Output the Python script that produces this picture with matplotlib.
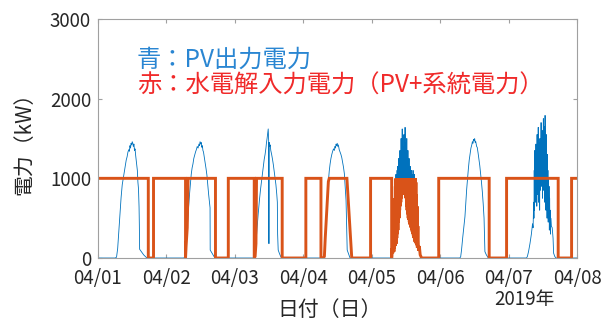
import numpy as np
import matplotlib
matplotlib.use("Agg")
from matplotlib import pyplot as plt

plt.rcParams['font.family'] = ['Noto Sans CJK JP', 'DejaVu Sans']

# PV output per day: hour of day, kW
d1_h = [6.0, 6.5, 6.9, 7.3, 7.7, 8.1, 8.5, 8.9, 9.3, 9.6, 9.9, 10.2, 10.5, 10.8, 11.0, 11.2, 11.4, 11.6, 11.8,
        12.0, 12.2, 12.4, 12.6, 12.8, 13.0, 13.2, 13.4, 13.6, 13.8, 14.0, 14.2, 14.4, 14.5, 14.6, 15.2, 16.0, 17.0, 17.3]
d1_kw = [0, 10, 120, 330, 560, 760, 920, 1010, 1100, 1160, 1230, 1270, 1330, 1360, 1340, 1410, 1380, 1440, 1420,
         1460, 1440, 1400, 1430, 1350, 1370, 1290, 1230, 1170, 1100, 950, 870, 640, 420, 110, 80, 40, 5, 0]

d2_h = [6.0, 6.5, 6.9, 7.3, 7.7, 8.1, 8.4, 8.7, 9.0, 9.3, 9.6, 9.9, 10.2, 10.5, 10.8, 11.1, 11.4, 11.6, 11.8,
        12.0, 12.2, 12.4, 12.6, 12.8, 13.0, 13.3, 13.6, 13.9, 14.2, 14.5, 14.8, 15.1, 15.3, 15.35, 16.0, 16.5, 17.0]
d2_kw = [0, 10, 150, 380, 600, 800, 930, 1050, 1130, 1180, 1250, 1290, 1330, 1360, 1400, 1380, 1430, 1410, 1460,
         1430, 1450, 1390, 1410, 1350, 1330, 1260, 1190, 1120, 1040, 920, 800, 700, 630, 100, 60, 30, 0]

d3_h = [6.8, 7.1, 7.4, 7.8, 8.2, 8.6, 9.0, 9.4, 9.7, 10.0, 10.3, 10.6, 10.9, 11.1, 11.3, 11.5, 11.7, 11.85, 11.95,
        12.05, 12.2, 12.4, 12.6, 12.9, 13.2, 13.5, 13.8, 14.1, 14.4, 14.7, 14.9, 15.0, 15.2, 15.6, 16.0, 16.4]
d3_kw = [0, 20, 180, 380, 560, 720, 860, 980, 1080, 1150, 1240, 1300, 1380, 1450, 1500, 1560, 1620, 1480, 180,
         1450, 1400, 1420, 1350, 1300, 1240, 1170, 1090, 1010, 920, 800, 700, 300, 100, 60, 25, 0]

d4_h = [7.0, 7.4, 7.7, 8.0, 8.2, 8.5, 8.8, 9.1, 9.4, 9.7, 10.0, 10.3, 10.6, 10.9, 11.1, 11.3, 11.5, 11.7, 11.9,
        12.1, 12.3, 12.6, 12.9, 13.2, 13.5, 13.8, 14.1, 14.4, 14.7, 15.0, 15.2, 15.4, 15.9, 16.4]
d4_kw = [0, 20, 250, 450, 580, 800, 960, 1090, 1180, 1250, 1300, 1340, 1370, 1350, 1400, 1380, 1430, 1410, 1440,
         1400, 1420, 1360, 1330, 1300, 1260, 1200, 1140, 1060, 900, 720, 400, 100, 50, 0]

d5_h = [6.8, 7.0, 7.2, 7.4, 7.6, 7.8,
        7.9, 8.0, 8.1, 8.2, 8.3, 8.4, 8.5, 8.6, 8.7, 8.8, 8.9, 9.0, 9.1, 9.2,
        9.3, 9.4, 9.5, 9.6, 9.7, 9.8, 9.9,
        10.0, 10.1, 10.2, 10.3, 10.4, 10.5, 10.6, 10.7, 10.8, 10.9,
        11.0, 11.1, 11.2, 11.3, 11.4, 11.5, 11.6, 11.7, 11.8, 11.9,
        12.0, 12.1, 12.2, 12.3, 12.4, 12.5, 12.6, 12.7, 12.8, 12.9,
        13.0, 13.1, 13.2, 13.3, 13.4, 13.5, 13.6, 13.7, 13.8, 13.9,
        14.0, 14.1, 14.2, 14.3, 14.4, 14.5, 14.6, 14.7, 14.8, 14.9,
        15.0, 15.1, 15.2, 15.3, 15.4, 15.5, 15.6, 15.7, 15.8, 15.9,
        16.0, 16.2, 16.4, 16.7, 17.0, 17.5]
d5_kw = [0, 20, 120, 60, 300, 80,
         500, 120, 750, 150, 900, 200, 1050, 180, 1000, 250, 1100, 300, 1150, 350,
         1100, 450, 1250, 500, 1100, 600, 1350,
         650, 1200, 700, 1500, 750, 1300, 850, 1620, 800, 1400,
         900, 1250, 850, 1550, 800, 1300, 900, 1640, 800, 1450,
         750, 1300, 650, 1500, 600, 1200, 550, 1350, 500, 1100,
         480, 1250, 450, 1050, 420, 1150, 400, 1000, 380, 1100,
         350, 1050, 330, 1000, 300, 1100, 280, 1000, 250, 1050,
         220, 1000, 200, 1000, 190, 950, 180, 800, 160, 650,
         130, 400, 90, 150, 40, 0]

d6_h = [6.9, 7.2, 7.5, 7.9, 8.3, 8.7, 9.0, 9.3, 9.6, 9.9, 10.2, 10.5, 10.8, 11.1, 11.3, 11.5, 11.7, 11.9, 12.1,
        12.3, 12.5, 12.8, 13.0, 13.3, 13.6, 13.9, 14.2, 14.5, 14.8, 15.1, 15.4, 15.6, 15.7, 16.2, 16.9]
d6_kw = [0, 15, 100, 250, 380, 520, 700, 860, 990, 1120, 1230, 1310, 1380, 1420, 1460, 1440, 1490, 1470, 1500,
         1450, 1460, 1400, 1390, 1320, 1240, 1160, 1060, 950, 830, 680, 500, 200, 80, 40, 0]

d7_h = [6.3, 6.6, 7.0, 7.5, 8.0, 8.4, 8.6, 8.8, 8.9, 9.0, 9.1, 9.2, 9.3, 9.4, 9.5, 9.6, 9.7, 9.8, 9.9, 10.0,
        10.1, 10.2, 10.3, 10.4, 10.5, 10.6, 10.7, 10.8, 10.9, 11.0, 11.1, 11.2, 11.3, 11.4, 11.5, 11.6, 11.7,
        11.8, 11.9, 12.0, 12.1, 12.2, 12.3, 12.4, 12.5, 12.6, 12.7, 12.8, 12.9, 13.0, 13.1, 13.2, 13.3, 13.4,
        13.5, 13.6, 13.7, 13.8, 13.9, 14.0, 14.1, 14.2, 14.3, 14.4, 14.5, 14.6, 14.7, 14.8, 15.0, 15.3, 15.6,
        15.8, 16.2, 16.6]
d7_kw = [0, 20, 80, 180, 300, 430, 380, 700, 500, 1100, 600, 1350, 800, 1200, 700, 1430, 900, 1250, 650, 1550,
         800, 1300, 1000, 1640, 700, 1450, 950, 1350, 600, 1500, 850, 1250, 1050, 1700, 900, 1400, 1000,
         1600, 750, 1300, 1100, 1750, 850, 1500, 1000, 1650, 700, 1790, 900, 1400, 600, 1550, 800, 1200,
         500, 1300, 700, 1100, 450, 1000, 600, 900, 350, 750, 400, 600, 300, 500, 400, 380, 250,
         60, 20, 0]

pv_days = [(d1_h, d1_kw), (d2_h, d2_kw), (d3_h, d3_kw), (d4_h, d4_kw),
           (d5_h, d5_kw), (d6_h, d6_kw), (d7_h, d7_kw)]

# electrolyser input schedule (absolute hours); None = tracks PV up to 1000 kW
red_start = [0, 17.64, 19.47, 30.7, 31.6, 41.2, 45.7, 54.8, 55.6, 64.6, 72.9, 78.2, 81.4, 89.0,
             95.6, 103.0, 113.5, 119.5, 137.2, 143.3, 161.4, 166.1]
red_end = [17.64, 19.47, 30.7, 31.6, 41.2, 45.7, 54.8, 55.6, 64.6, 72.9, 78.2, 81.4, 87.3, 95.6,
           103.0, 113.5, 119.5, 137.2, 143.3, 161.4, 166.1, 168]
red_level = [1000, 0, 1000, None, 1000, 0, 1000, None, 1000, 0, 1000, None, 1000, 0,
             1000, None, 0, 1000, 0, 1000, 0, 1000]

day_labels = ['04/01', '04/02', '04/03', '04/04', '04/05', '04/06', '04/07', '04/08']
y_ticks = [0, 1000, 2000, 3000]

# assemble the PV trace over the week
pv_t = [0.0]
pv_v = [0.0]
for i, (hh, kw) in enumerate(pv_days):
    pv_t += [24 * i + h for h in hh]
    pv_v += list(kw)
pv_t.append(168.0)
pv_v.append(0.0)
pv_t = np.array(pv_t)
pv_v = np.array(pv_v)

red_t = []
red_v = []
for t0, t1, lvl in zip(red_start, red_end, red_level):
    if lvl is None:
        m = (pv_t > t0) & (pv_t < t1)
        red_t += [t0] + list(pv_t[m])
        red_v += [0] + list(np.minimum(pv_v[m], 1000))
    else:
        red_t += [t0, t1]
        red_v += [lvl, lvl]

fig = plt.figure(figsize=(6.08, 3.26), dpi=100)
ax = fig.add_axes([98 / 608, 1 - 258 / 326, 479 / 608, 239 / 326])

ax.plot(pv_t, pv_v, color='#0072BD', lw=0.6)
ax.plot(red_t, red_v, color='#D95319', lw=2.1, solid_joinstyle='miter')

ax.set_xlim(0, 168)
ax.set_ylim(0, 3000)
ax.set_xticks(np.arange(0, 169, 24))
ax.set_xticklabels(day_labels)
ax.set_yticks(y_ticks)
ax.tick_params(direction='in', top=True, right=True, length=3, width=0.8,
               color='#a0a0a0', labelsize=13.5, labelcolor='#262626')
ax.tick_params(axis='x', pad=7.5)
ax.tick_params(axis='y', pad=5)
for sp in ax.spines.values():
    sp.set_color('#a0a0a0')
    sp.set_linewidth(0.8)

ax.set_ylabel('電力（kW）', fontsize=15, color='#262626', labelpad=10)
fig.text(330 / 608, 1 - 310 / 326, '日付（日）', fontsize=15, color='#262626', ha='center', va='center')
fig.text(524 / 608, 1 - 300 / 326, '2019年', fontsize=13.5, color='#262626', ha='center', va='center')

fig.text(137 / 608, 1 - 60 / 326, '青：PV出力電力', fontsize=17.5, color='#2A86D2', va='center')
fig.text(137 / 608, 1 - 86 / 326, '赤：水電解入力電力（PV+系統電力）', fontsize=17.5, color='#F02A2A', va='center')

fig.savefig('out.png', dpi=100)
